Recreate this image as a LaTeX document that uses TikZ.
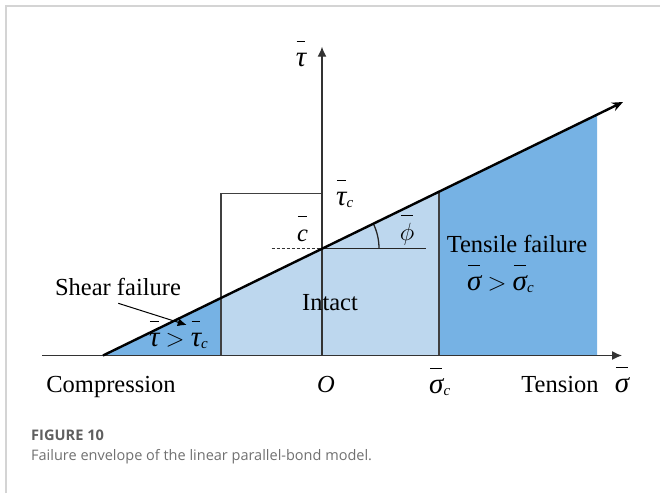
\documentclass[tikz,border=0pt]{standalone}
\usepackage{fontspec}
\setmainfont{Liberation Serif}
\newfontfamily\capfont{Open Sans}
\usetikzlibrary{arrows.meta}
\definecolor{lightblue}{RGB}{189,215,238}
\definecolor{midblue}{RGB}{118,178,228}
\definecolor{framegray}{RGB}{212,212,212}
\definecolor{capdark}{RGB}{95,95,95}
\definecolor{caplight}{RGB}{112,112,112}
\newcommand\ob[1]{\leavevmode\setbox0=\hbox{#1}\rlap{\hbox to\wd0{\hss\rule[0.97em]{0.85\wd0}{1.7pt}\hss}}\box0}
\newcommand\sbc{\raisebox{-2pt}{\fontsize{15}{15}\selectfont\itshape c}}
\newcommand\gfont{\fontsize{29}{30}\selectfont}
\newcommand\gtau{\ob{\gfont\itshape τ}}
\newcommand\gsig{\ob{\gfont\itshape σ}}
\newcommand\bigger{\ $>$\ }
\begin{document}
\begin{tikzpicture}[x=1pt,y=1pt,
  lbl/.style={inner sep=0pt,font=\fontsize{24.5}{28}\selectfont},
  axisline/.style={draw=black!80,line width=1.3pt},
  divline/.style={draw=black!75,line width=1.2pt},
  axisarrow/.style={-{Latex[length=10pt,width=9pt]}}]
\useasboundingbox (0,0) rectangle (660,-493);
% frame
\draw[framegray,line width=1.6pt] (6,-493) -- (6,-6) -- (660,-6);
% key coordinates
\coordinate (A) at (103,-355.5);
\coordinate (E) at (623,-102);
\coordinate (P1) at (221,-297.6);
\coordinate (C) at (322,-248.45);
\coordinate (P2) at (439,-191.5);
\coordinate (P3) at (597,-114.6);
\coordinate (B1) at (221,-355.5);
\coordinate (B2) at (439,-355.5);
\coordinate (B3) at (597,-355.5);
\coordinate (O) at (322,-355.5);
% fills
\fill[midblue] (A) -- (P1) -- (B1) -- cycle;
\fill[lightblue] (P1) -- (P2) -- (B2) -- (B1) -- cycle;
\fill[midblue] (P2) -- (P3) -- (B3) -- (B2) -- cycle;
% dividers and box
\coordinate (R1) at (221,-193.3);
\coordinate (R2) at (322,-193.3);
\draw[divline] (B1) -- (R1) -- (R2);
\draw[divline] (B2) -- (P2);
% axes
\coordinate (XS) at (42,-355.5);
\coordinate (XE) at (622,-355.5);
\coordinate (YE) at (322,-46.7);
\draw[axisline,axisarrow] (XS) -- (XE);
\draw[axisline,axisarrow] (O) -- (YE);
% dashed and horizontal at c
\coordinate (D1) at (271.7,-248.45);
\coordinate (H1) at (425.7,-248.45);
\draw[black!80,line width=1.1pt,dash pattern=on 3pt off 2pt] (D1) -- (C);
\draw[black!85,line width=1.5pt] (C) -- (H1);
\draw[black!85,line width=1.3pt] ([shift={(57,0)}]C) arc[start angle=0,end angle=25.94,radius=57];
% envelope
\draw[black,line width=2.4pt,-{Stealth[length=11pt,width=9pt]}] (A) -- (E);
% labels
\node[lbl,anchor=base] (tauax) at (301,-66) {\gtau};
\node[lbl,anchor=base west] (tauc) at (336,-205) {\gtau\sbc};
\node[lbl,anchor=base] (cbar) at (302.5,-241) {\ob{\itshape c}};
\node[lbl,anchor=base] (phibar) at (407,-240) {\ob{\gfont$\phi$}};
\node[lbl] (tens) at (517,-244) {Tensile failure};
\node[lbl,anchor=base west] (tenscond) at (467,-290) {\gsig\bigger\gsig\sbc};
\node[lbl] (shear) at (118,-287) {Shear failure};
\node[lbl,anchor=base west] (shearcond) at (149,-346) {\gtau\bigger\gtau\sbc};
\node[lbl] (intact) at (330,-303) {Intact};
\node[lbl,anchor=base] (comp) at (111,-392) {Compression};
\node[lbl,anchor=base] (orig) at (326,-392) {\itshape O};
\node[lbl,anchor=base west] (sigc) at (429,-393) {\gsig\sbc};
\node[lbl,anchor=base] (tension) at (560,-392) {Tension};
\node[lbl,anchor=base] (sigax) at (622,-392) {\gsig};
% shear arrow
\coordinate (SA1) at (118.3,-303.3);
\coordinate (SA2) at (186.7,-325);
\draw[black,line width=1pt,-{Latex[length=9pt,width=8pt]}] (SA1) -- (SA2);
% caption
\node[anchor=west,inner sep=0pt,font=\capfont\bfseries\fontsize{14.6}{18}\selectfont,text=capdark] (fig) at (31,-435) {FIGURE 10};
\node[anchor=west,inner sep=0pt,font=\capfont\fontsize{14.5}{18}\selectfont,text=caplight] (cap) at (31,-457) {Failure envelope of the linear parallel-bond model.};
\end{tikzpicture}
\end{document}
